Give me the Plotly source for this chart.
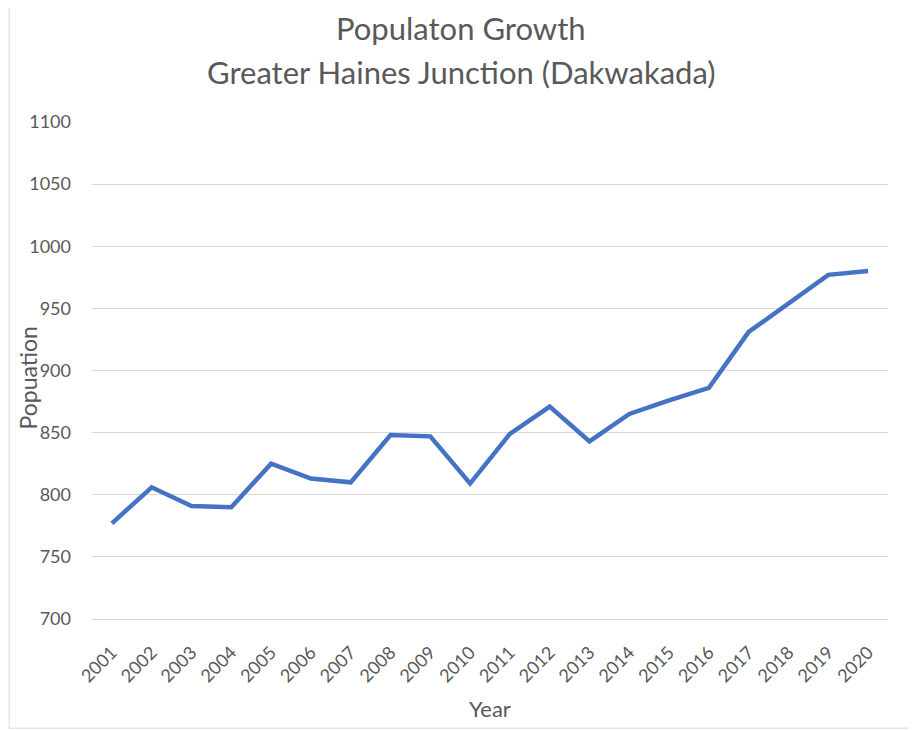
import plotly.graph_objects as go

years = [str(y) for y in range(2001, 2021)]
population = [777, 806, 791, 790, 825, 813, 810, 848, 847, 809,
              849, 871, 843, 865, 876, 886, 931, 954, 977, 980]
y_ticks = [700, 750, 800, 850, 900, 950, 1000, 1050, 1100]
title_lines = ["Populaton Growth", "Greater Haines Junction (Dakwakada)"]

FONT = "Lato"
GRAY = "#595959"
GRID = "#d9d9d9"

fig = go.Figure()
fig.add_trace(go.Scatter(
    x=years, y=population, mode="lines",
    line=dict(color="#4472C4", width=4.5),
    hoverinfo="x+y",
))

annotations = [
    dict(text=title_lines[0], x=0.4636, y=1.189, xref="paper", yref="paper",
         xanchor="center", yanchor="middle", showarrow=False,
         font=dict(family=FONT, size=31, color=GRAY)),
    dict(text=title_lines[1], x=0.4636, y=1.100, xref="paper", yref="paper",
         xanchor="center", yanchor="middle", showarrow=False,
         font=dict(family=FONT, size=31, color=GRAY)),
    dict(text="Year", x=0.5, y=-0.18, xref="paper", yref="paper",
         xanchor="center", yanchor="middle", showarrow=False,
         font=dict(family=FONT, size=22, color=GRAY)),
    dict(text="Popuation", x=-0.081, y=0.485, xref="paper", yref="paper",
         xanchor="center", yanchor="middle", showarrow=False, textangle=-90,
         font=dict(family=FONT, size=23, color=GRAY)),
]

shapes = [
    dict(type="line", xref="paper", yref="paper", x0=-0.104, x1=-0.104,
         y0=-0.22, y1=1.25, line=dict(color="#e6e6e6", width=1.5)),
    dict(type="line", xref="paper", yref="paper", x0=-0.104, x1=1.04,
         y0=-0.22, y1=-0.22, line=dict(color="#e6e6e6", width=1.5)),
]

fig.update_layout(
    width=908, height=722,
    margin=dict(l=84, r=28, t=114, b=111, autoexpand=False),
    paper_bgcolor="white", plot_bgcolor="white",
    showlegend=False,
    font=dict(family=FONT, color=GRAY),
    annotations=annotations,
    shapes=shapes,
    xaxis=dict(
        type="category",
        range=[-0.5, len(years) - 0.5],
        tickangle=-45,
        tickfont=dict(family=FONT, size=18, color=GRAY),
        showgrid=False, showline=True, linecolor=GRID, linewidth=1,
        ticks="", ticklabelstandoff=15,
        automargin=False,
    ),
    yaxis=dict(
        range=[700, 1100],
        tickvals=y_ticks,
        tickfont=dict(family=FONT, size=18, color=GRAY),
        showgrid=True, gridcolor=GRID, gridwidth=1,
        zeroline=False, showline=False, ticks="",
        ticklabelstandoff=20,
        automargin=False,
    ),
)

fig.write_html("out.html")
